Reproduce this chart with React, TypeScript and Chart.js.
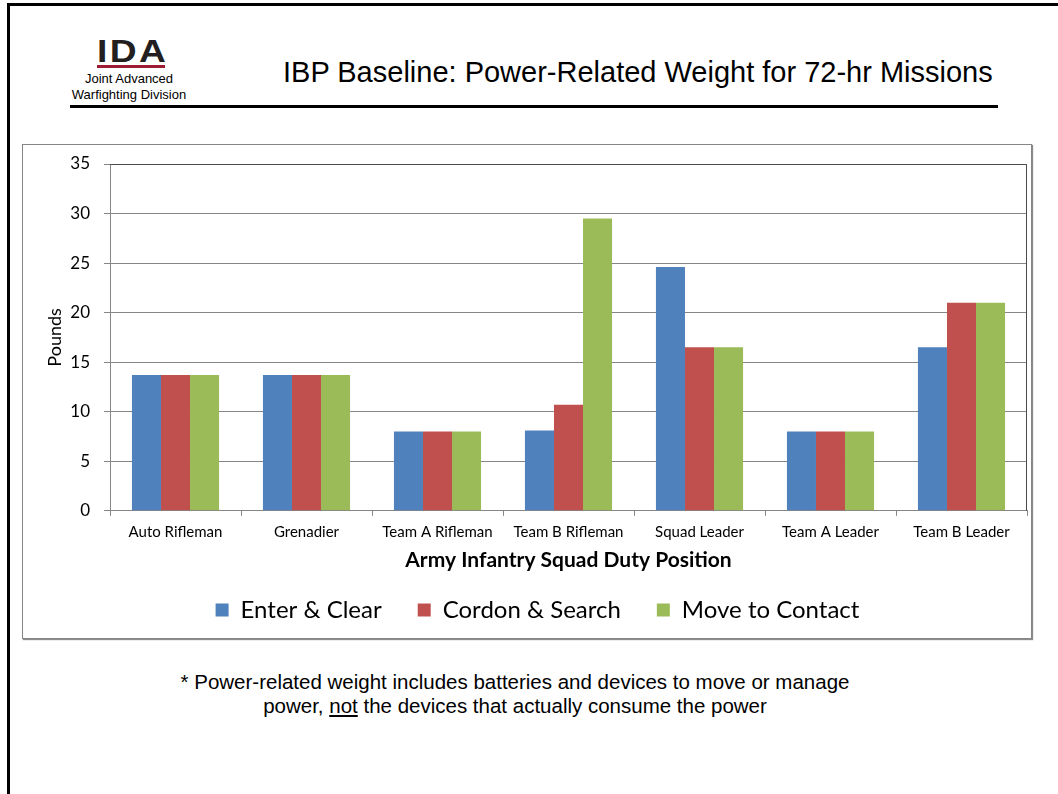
import React, { useEffect, useRef } from "react";
import { Chart, registerables } from "chart.js";

Chart.register(...registerables);

const categories = [
  "Auto Rifleman",
  "Grenadier",
  "Team A Rifleman",
  "Team B Rifleman",
  "Squad Leader",
  "Team A Leader",
  "Team B Leader",
];
const seriesNames = ["Enter & Clear", "Cordon & Search", "Move to Contact"];
const enterClear = [13.7, 13.7, 8.0, 8.1, 24.6, 8.0, 16.5];
const cordonSearch = [13.7, 13.7, 8.0, 10.7, 16.5, 8.0, 21.0];
const moveToContact = [13.7, 13.7, 8.0, 29.5, 16.5, 8.0, 21.0];
const seriesColors = ["#4F81BD", "#C0504D", "#9BBB59"];
const yMin = 0;
const yMax = 35;
const yStep = 5;

const CAL = "Lato, 'Open Sans', sans-serif";
const ARIAL = "'Liberation Sans', Arial, sans-serif";

const plotBorder = {
  id: "plotBorder",
  afterLayout(chart: any) {
    if (chart.legend) chart.legend.left += 25;
  },
  afterDatasetsDraw(chart: any) {
    const { ctx, chartArea } = chart;
    ctx.save();
    ctx.strokeStyle = "#4a4a4a";
    ctx.lineWidth = 1;
    ctx.beginPath();
    ctx.moveTo(chartArea.left, chartArea.top + 0.5);
    ctx.lineTo(chartArea.right - 0.5, chartArea.top + 0.5);
    ctx.lineTo(chartArea.right - 0.5, chartArea.bottom);
    ctx.stroke();
    ctx.restore();
  },
};

function BarChart() {
  const ref = useRef<HTMLCanvasElement | null>(null);
  useEffect(() => {
    if (!ref.current) return;
    const data = [enterClear, cordonSearch, moveToContact];
    const chart = new Chart(ref.current, {
      type: "bar",
      data: {
        labels: categories,
        datasets: seriesNames.map((name, i) => ({
          label: name,
          data: data[i],
          backgroundColor: seriesColors[i],
          borderWidth: 0,
          barPercentage: 1,
          categoryPercentage: 0.665,
        })),
      },
      plugins: [plotBorder],
      options: {
        responsive: false,
        animation: false,
        layout: { padding: { left: 0, right: 4, top: 19, bottom: 6 } },
        plugins: {
          legend: {
            position: "bottom",
            labels: {
              boxWidth: 13,
              boxHeight: 13,
              padding: 36,
              color: "#000",
              font: { family: CAL, size: 24 },
            },
          },
          tooltip: { enabled: false },
        },
        scales: {
          x: {
            grid: {
              offset: true,
              drawOnChartArea: false,
              drawTicks: true,
              tickLength: 5,
              color: "#868686",
            },
            border: { color: "#868686" },
            ticks: {
              color: "#000",
              padding: 7,
              maxRotation: 0,
              autoSkip: false,
              font: { family: CAL, size: 15 },
            },
            title: {
              display: true,
              text: "Army Infantry Squad Duty Position",
              color: "#000",
              font: { family: CAL, size: 21, weight: "bold" },
              padding: { top: 0, bottom: -11 },
            },
          },
          y: {
            min: yMin,
            max: yMax,
            afterFit(scale: any) {
              scale.width = 87;
              scale.paddingTop = 0;
              scale.paddingBottom = 0;
            },
            ticks: {
              stepSize: yStep,
              color: "#000",
              padding: 14,
              font: { family: CAL, size: 17 },
            },
            grid: { color: "#868686", tickLength: 6 },
            border: { color: "#868686" },
            title: {
              display: true,
              text: "Pounds",
              color: "#000",
              font: { family: CAL, size: 18 },
              padding: { top: 21, bottom: 4 },
            },
          },
        },
      },
    });
    return () => chart.destroy();
  }, []);
  return <canvas ref={ref} width={1008} height={493} style={{ display: "block" }} />;
}

export default function App() {
  return (
    <div
      style={{
        position: "absolute",
        left: 0,
        top: 0,
        width: 1058,
        height: 794,
        background: "#fff",
        overflow: "hidden",
      }}
    >
      {/* slide border */}
      <div style={{ position: "absolute", left: 7, top: 3, width: 3, height: 791, background: "#000" }} />
      <div style={{ position: "absolute", left: 7, top: 3, width: 1051, height: 3, background: "#000" }} />

      {/* logo */}
      <div
        style={{
          position: "absolute",
          left: 97,
          top: 35,
          fontFamily: ARIAL,
          fontWeight: "bold",
          fontSize: 31,
          lineHeight: "34px",
          letterSpacing: 2,
          color: "#231f20",
          transform: "scaleX(1.2)",
          transformOrigin: "left top",
        }}
      >
        IDA
      </div>
      <div style={{ position: "absolute", left: 97, top: 65, width: 68, height: 3, background: "#9E1B34" }} />
      <div
        style={{
          position: "absolute",
          left: 49,
          width: 160,
          top: 71,
          textAlign: "center",
          fontFamily: ARIAL,
          fontSize: 13,
          lineHeight: "16px",
          color: "#000",
        }}
      >
        <div>Joint Advanced</div>
        <div>Warfighting Division</div>
      </div>

      {/* title */}
      <div
        style={{
          position: "absolute",
          left: 283,
          top: 56,
          fontFamily: ARIAL,
          fontSize: 29,
          lineHeight: "32px",
          color: "#000",
          whiteSpace: "nowrap",
        }}
      >
        IBP Baseline: Power-Related Weight for 72-hr Missions
      </div>
      <div style={{ position: "absolute", left: 70, top: 105, width: 928, height: 3, background: "#000" }} />

      {/* chart box */}
      <div
        style={{
          position: "absolute",
          left: 22,
          top: 144,
          width: 1008,
          height: 493,
          border: "1px solid #868686",
          boxShadow: "1px 1px 1px rgba(0,0,0,0.45)",
          background: "#fff",
        }}
      >
        <BarChart />
      </div>

      {/* footnote */}
      <div
        style={{
          position: "absolute",
          left: 115,
          width: 800,
          top: 670,
          textAlign: "center",
          fontFamily: ARIAL,
          fontSize: 20.5,
          lineHeight: "24px",
          color: "#000",
        }}
      >
        <div>* Power-related weight includes batteries and devices to move or manage</div>
        <div>
          power, <span style={{ textDecoration: "underline" }}>not</span> the devices that actually consume the power
        </div>
      </div>
    </div>
  );
}
